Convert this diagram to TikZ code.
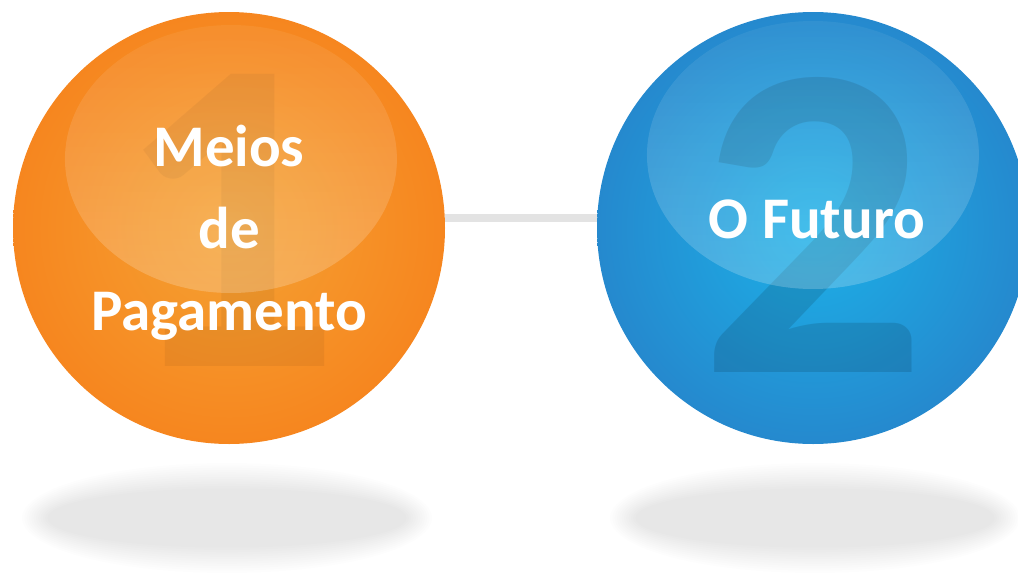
\documentclass[tikz,border=0pt]{standalone}
\usepackage{fontspec}
\setmainfont{Carlito}
\usetikzlibrary{fadings}

\definecolor{orbOrange}{HTML}{F6861F}
\definecolor{orbOrangeIn}{HTML}{F5A233}
\definecolor{orbBlue}{HTML}{2589CE}
\definecolor{orbBlueIn}{HTML}{1CB1E8}
\definecolor{linkGray}{HTML}{E3E3E3}

\tikzset{
	orb/.style={circle, minimum size=432pt, inner sep=0pt},
	bigdigit/.style={inner sep=0pt, font=\fontsize{450}{450}\selectfont\bfseries},
	orblabel/.style={inner sep=0pt, align=center, text=white, font=\fontsize{59}{82}\selectfont\bfseries},
}

\begin{document}
\begin{tikzpicture}[x=1pt,y=-1pt]
		\useasboundingbox (0,0) rectangle (1018,584);
		\clip (0,0) rectangle (1018,584);
		% soft shadows under the orbs
		\foreach \cx in {227,815} {
			\foreach \i in {0,...,11} {
				\fill[black, opacity=0.0095] (\cx,518) ellipse ({205pt-\i*2.3pt} and {55pt-\i*2.3pt});
			}
		}
		\node[orb, inner color=orbOrangeIn, outer color=orbOrange] (pay) at (229,228) {};
		\node[orb, inner color=orbBlueIn, outer color=orbBlue] (future) at (813,228) {};
		\draw[linkGray, line width=8pt] ([yshift=10pt]pay.east) -- ([yshift=10pt]future.west);
		\node[bigdigit, text=black, text opacity=0.05] (payNum) at (228,220) {1};
		\node[bigdigit, text=black, text opacity=0.12] (futureNum) at (814,225) {2};
		% glossy highlights
		\foreach \gx/\gy in {231/159,813/155} {
			\fill[white, opacity=0.06] (\gx,\gy) ellipse (166pt and 134pt);
			\fill[white, opacity=0.16, path fading=north] (\gx,\gy) ellipse (166pt and 134pt);
		}
		\node[orblabel] (payText) at (229,233) {Meios\\de\\Pagamento};
		\node[orblabel] (futureText) at (817,219) {O Futuro};
\end{tikzpicture}
\end{document}
